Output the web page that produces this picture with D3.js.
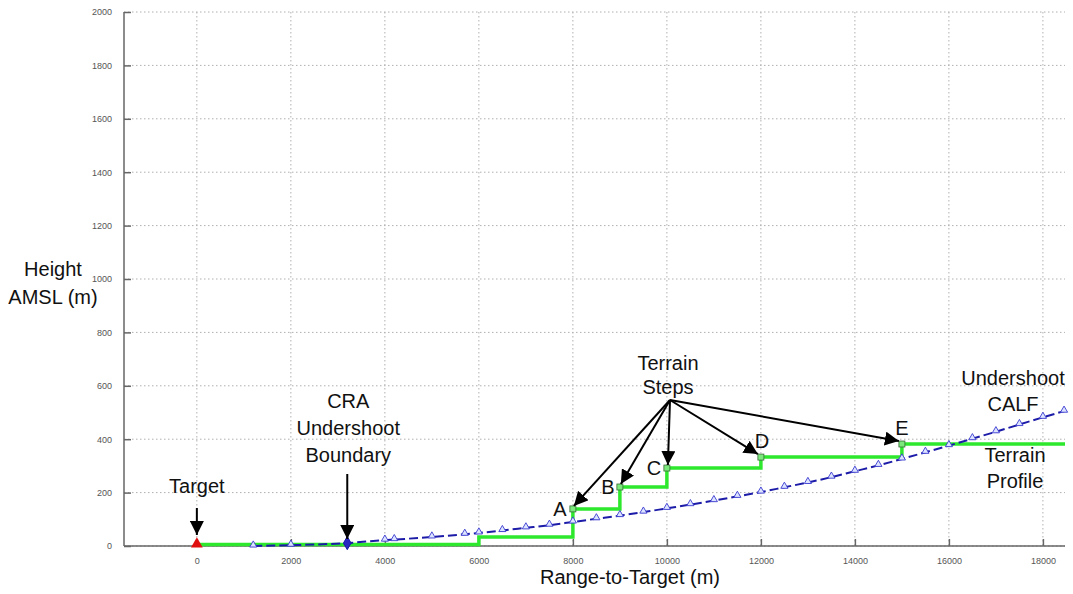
<!DOCTYPE html>
<html>
<head>
<meta charset="utf-8">
<title>Undershoot CALF vs Terrain</title>
<script src="https://d3js.org/d3.v7.min.js"></script>
<style>
  * { margin: 0; padding: 0; }
  body { background: #fff; font-family: "Liberation Sans", Arial, sans-serif; }
  .tick text { font-size: 9px; fill: #555; font-family: "Liberation Sans", Arial, sans-serif; }
  .ann { font-size: 20px; fill: #111; }
</style>
</head>
<body>
<svg id="chart" width="1073" height="594"></svg>
<script>
// tick values
const xTicks = [0, 2000, 4000, 6000, 8000, 10000, 12000, 14000, 16000, 18000];
const yTicks = [0, 200, 400, 600, 800, 1000, 1200, 1400, 1600, 1800, 2000];

// terrain profile (step corners)
const terrainX = [0, 6000, 6000, 8000, 8000, 9000, 9000, 10000, 10000, 12000, 12000, 15000, 15000, 18470];
const terrainY = [6, 6, 34, 34, 139, 139, 221, 221, 292, 292, 333, 333, 382, 382];

// labelled step points A-E
const stepNames = ["A", "B", "C", "D", "E"];
const stepX = [8000, 9000, 10000, 12000, 15000];
const stepY = [139, 221, 292, 333, 382];

// undershoot CALF curve
const calfX = [1200, 2000, 3200, 4000, 4200, 5000, 5700, 6000, 6500, 7000, 7500, 8000, 8500, 9000, 9500, 10000, 10500, 11000, 11500, 12000, 12500, 13000, 13500, 14000, 14500, 15000, 15500, 16000, 16500, 17000, 17500, 18000, 18450];
const calfY = [0, 3, 11, 22, 24, 34, 44, 49, 58, 68, 78, 90, 102, 114, 127, 141, 155, 170, 186, 202, 220, 238, 258, 280, 302, 326, 351, 376, 402, 428, 455, 482, 505];

// CRA undershoot boundary
const craX = 3200, craY = 11;

const svg = d3.select("#chart");
const L = 124, R = 1065, T = 12, B = 546;

const x = d3.scaleLinear().domain([-1550, 18470]).range([L, R]);
const y = d3.scaleLinear().domain([0, 2000]).range([B, T]);

// grid
const grid = svg.append("g").attr("stroke", "#b0b0b0").attr("stroke-dasharray", "1.5,2.5").attr("stroke-width", 1);
grid.selectAll(".gx").data(xTicks).join("line")
  .attr("x1", d => x(d)).attr("x2", d => x(d)).attr("y1", T).attr("y2", B);
grid.selectAll(".gy").data(yTicks).join("line")
  .attr("x1", L).attr("x2", R).attr("y1", d => y(d)).attr("y2", d => y(d));

// axes, ticks pointing inward
const xAxis = svg.append("g").attr("transform", `translate(0,${B})`)
  .call(d3.axisBottom(x).tickValues(xTicks).tickFormat(d3.format("d")).tickSize(-7).tickPadding(12));
const yAxis = svg.append("g").attr("transform", `translate(${L},0)`)
  .call(d3.axisLeft(y).tickValues(yTicks).tickFormat(d3.format("d")).tickSize(-7).tickPadding(12));
[xAxis, yAxis].forEach(a => {
  a.select(".domain").attr("stroke", "#666").attr("stroke-width", 1.5);
  a.selectAll(".tick line").attr("stroke", "#666").attr("stroke-width", 1.5);
});
xAxis.select(".domain").attr("d", `M${L},0H${R}`);
yAxis.select(".domain").attr("d", `M0,${B}V${T}`);

// terrain profile
const terrain = terrainX.map((v, i) => [v, terrainY[i]]);
svg.append("path").datum(terrain)
  .attr("fill", "none").attr("stroke", "#2ee82e").attr("stroke-width", 3.5)
  .attr("d", d3.line().x(d => x(d[0])).y(d => y(d[1])));

// CALF curve
const calf = calfX.map((v, i) => [v, calfY[i]]);
svg.append("path").datum(calf)
  .attr("fill", "none").attr("stroke", "#1c1ca8").attr("stroke-width", 2)
  .attr("stroke-dasharray", "9,4")
  .attr("d", d3.line().curve(d3.curveMonotoneX).x(d => x(d[0])).y(d => y(d[1])));
svg.selectAll(".tri").data(calf).join("path")
  .attr("transform", d => `translate(${x(d[0])},${y(d[1]) - 1})`)
  .attr("d", d3.symbol(d3.symbolTriangle, 22))
  .attr("fill", "#dde4ff").attr("stroke", "#3a3ad0").attr("stroke-width", 0.9);

// step markers
svg.selectAll(".sq").data(stepX).join("rect")
  .attr("x", (d, i) => x(d) - 3).attr("y", (d, i) => y(stepY[i]) - 3)
  .attr("width", 6).attr("height", 6)
  .attr("fill", "#7ae87a").attr("stroke", "#3a6a3a").attr("stroke-width", 0.8);

// target marker and CRA boundary marker
svg.append("path").attr("transform", `translate(${x(0)},${y(0) - 2})`)
  .attr("d", d3.symbol(d3.symbolTriangle, 60)).attr("fill", "#e01010");
svg.append("path").attr("transform", `translate(${x(craX)},${y(craY)})`)
  .attr("d", d3.symbol(d3.symbolDiamond, 50)).attr("fill", "#2a2ac0").attr("stroke", "#1c1ca8");

// arrowheads
svg.append("defs").append("marker")
  .attr("id", "arr").attr("viewBox", "0 0 10 10").attr("refX", 10).attr("refY", 5)
  .attr("markerWidth", 7).attr("markerHeight", 7).attr("markerUnits", "strokeWidth")
  .attr("orient", "auto")
  .append("path").attr("d", "M0,0L10,5L0,10Z").attr("fill", "#000");

function arrow(x1, y1, x2, y2) {
  svg.append("line").attr("x1", x1).attr("y1", y1).attr("x2", x2).attr("y2", y2)
    .attr("stroke", "#000").attr("stroke-width", 2).attr("marker-end", "url(#arr)");
}
function label(lines, cx, cy, size, lh) {
  const t = svg.append("text").attr("class", "ann").attr("text-anchor", "middle")
    .attr("font-size", size);
  lines.forEach((s, i) => t.append("tspan").attr("x", cx).attr("y", cy + i * lh).text(s));
}

// axis titles
label(["Height", "AMSL (m)"], 53, 276, 20, 28);
label(["Range-to-Target (m)"], 630, 584, 20, 0);

// target
label(["Target"], x(0), 493, 19, 0);
arrow(x(0), 508, x(0), 535);

// CRA boundary
label(["CRA", "Undershoot", "Boundary"], x(craX) + 1, 408, 19, 27);
arrow(x(craX), 474, x(craX), 539);

// terrain steps
label(["Terrain", "Steps"], 668, 370, 19, 24);
const ox = 670, oy = 400;
stepX.forEach((d, i) => arrow(ox, oy, x(d) + (i < 3 ? 1 : -3), y(stepY[i]) - 3));
const lblDx = [-13, -12, -13, 1, 0], lblDy = [7, 7, 7, -9, -9];
stepNames.forEach((n, i) => svg.append("text").attr("class", "ann").attr("font-size", 19)
  .attr("text-anchor", "middle")
  .attr("x", x(stepX[i]) + lblDx[i]).attr("y", y(stepY[i]) + lblDy[i]).text(n));

// curve labels
label(["Undershoot", "CALF"], 1013, 385, 19, 26);
label(["Terrain", "Profile"], 1015, 462, 19, 26);
</script>
</body>
</html>
